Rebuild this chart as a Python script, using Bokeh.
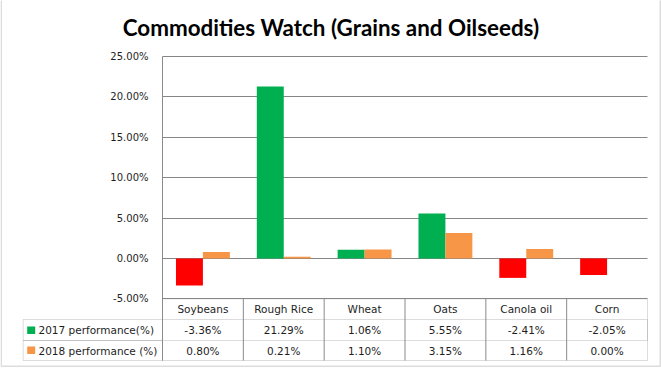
from bokeh.plotting import figure
from bokeh.models import (Range1d, FixedTicker, NumeralTickFormatter,
                          ColumnDataSource, BoxAnnotation)
from bokeh.core.properties import value
from bokeh.embed import file_html
from bokeh.resources import INLINE

# ---------------- data ----------------
title = "Commodities Watch (Grains and Oilseeds)"
categories = ["Soybeans", "Rough Rice", "Wheat", "Oats", "Canola oil", "Corn"]
series_names = ["2017 performance(%)", "2018 performance (%)"]
perf_2017 = [-3.36, 21.29, 1.06, 5.55, -2.41, -2.05]
perf_2018 = [0.80, 0.21, 1.10, 3.15, 1.16, 0.00]
y_ticks = [-5, 0, 5, 10, 15, 20, 25]

# ---------------- style / layout ----------------
GREEN, ORANGE, RED = "#00B050", "#F79646", "#FF0000"
GRID = "#868686"
LINE = "#8a8a8a"
TXT = "#1e1e1e"
FONT = "DejaVu Sans"

W, H = 661, 368
PL, PR, PT, PB = 162, 647, 56, 298.3      # plot area edges (px)
TB = 360                                  # table bottom (px)
NCAT = len(categories)
Y_TOP = y_ticks[-1] / 100
Y_BOT = y_ticks[0] / 100
PXU = (PB - PT) / (Y_TOP - Y_BOT)         # px per y unit
PXC = (PR - PL) / NCAT                    # px per category


def X(px):
    return (px - PL) / PXC


def Y(px):
    return Y_TOP - (px - PT) / PXU


p = figure(width=W, height=H,
           x_range=Range1d(X(0), X(W)),
           y_range=Range1d(Y(H), Y(0)),
           output_backend="svg", toolbar_location=None,
           x_axis_location=None,
           min_border_left=0, min_border_right=0,
           min_border_top=0, min_border_bottom=0)
p.outline_line_color = None
p.background_fill_color = "white"
p.border_fill_color = "white"

# y axis (pinned at the left edge of the plot area)
yax = p.yaxis[0]
yax.fixed_location = 0
yax.bounds = (Y(TB), Y_TOP)
yax.ticker = FixedTicker(ticks=[t / 100 for t in y_ticks])
yax.formatter = NumeralTickFormatter(format="0.00%")
yax.major_tick_line_color = None
yax.minor_tick_line_color = None
yax.major_tick_out = 0
yax.major_tick_in = 0
yax.axis_line_color = LINE
yax.major_label_standoff = 14
yax.major_label_text_font = FONT
yax.major_label_text_font_size = "10px"
yax.major_label_text_color = TXT
p.xgrid.visible = False

grid_ticks = [t / 100 for t in y_ticks]
if "cross_bounds" in p.ygrid[0].properties():
    p.ygrid.cross_bounds = (0, NCAT)
    p.ygrid.grid_line_color = GRID
else:
    p.ygrid.visible = False
    p.segment(x0=0, x1=NCAT, y0=grid_ticks, y1=grid_ticks, line_color=GRID)

# bars
xc = [i + 0.5 for i in range(NCAT)]
bw = 1 / 3
src = ColumnDataSource(dict(
    cat=categories,
    xc=xc,
    x17=[x - bw / 2 for x in xc],
    x18=[x + bw / 2 for x in xc],
    v17=[v / 100 for v in perf_2017],
    v18=[v / 100 for v in perf_2018],
    c17=[RED if v < 0 else GREEN for v in perf_2017],
    l17=[f"{v:.2f}%" for v in perf_2017],
    l18=[f"{v:.2f}%" for v in perf_2018],
))
p.vbar(x="x17", top="v17", width=bw, fill_color="c17", line_color=None, source=src)
p.vbar(x="x18", top="v18", width=bw, fill_color=ORANGE, line_color=None, source=src)

# data table under the plot
for yy, field in [(Y(308.8), "cat"), (Y(329.8), "l17"), (Y(350.3), "l18")]:
    p.text(x="xc", y=yy, text=field, source=src, text_align="center",
           text_baseline="middle", text_font=value(FONT),
           text_font_size="10.5px", text_color=TXT)

p.add_layout(BoxAnnotation(left=0, right=NCAT, top=Y(PB), bottom=Y(TB),
                           fill_alpha=0, line_color=LINE, line_width=1))
p.add_layout(BoxAnnotation(left=X(22.7), right=NCAT, top=Y(319), bottom=Y(340),
                           fill_alpha=0, line_color=LINE, line_width=1))
p.add_layout(BoxAnnotation(left=X(22.7), right=0, top=Y(340), bottom=Y(TB),
                           fill_alpha=0, line_color=LINE, line_width=1))
p.segment(x0=list(range(1, NCAT)), x1=list(range(1, NCAT)),
          y0=Y(PB), y1=Y(TB), line_color=LINE, line_width=1)

# legend keys in the table
row_y = [Y(329.8), Y(350.3)]
p.text(x=X(38), y=row_y, text=series_names, text_baseline="middle",
       text_font=value(FONT), text_font_size="10.5px", text_color=TXT)
for cy, col in zip([329.8, 349.8], [GREEN, ORANGE]):
    p.add_layout(BoxAnnotation(left=X(26.7), right=X(34.7), top=Y(cy - 3.8), bottom=Y(cy + 3.8),
                               fill_color=col, fill_alpha=1, line_color=None))

# title (vertically centred on its cap height)
p.text(x=X(330.5), y=Y(27), text=[title], text_align="center",
       text_baseline="middle", text_font=value("Lato"),
       text_font_style="bold", text_font_size="22.4px", text_color="black")

# chart border
p.add_layout(BoxAnnotation(left=X(0.75), right=X(659.75), top=Y(-5), bottom=Y(365.75),
                           fill_alpha=0, line_color="#8c8c8c", line_width=1.5))

open("out.html", "w").write(file_html(p, INLINE))
